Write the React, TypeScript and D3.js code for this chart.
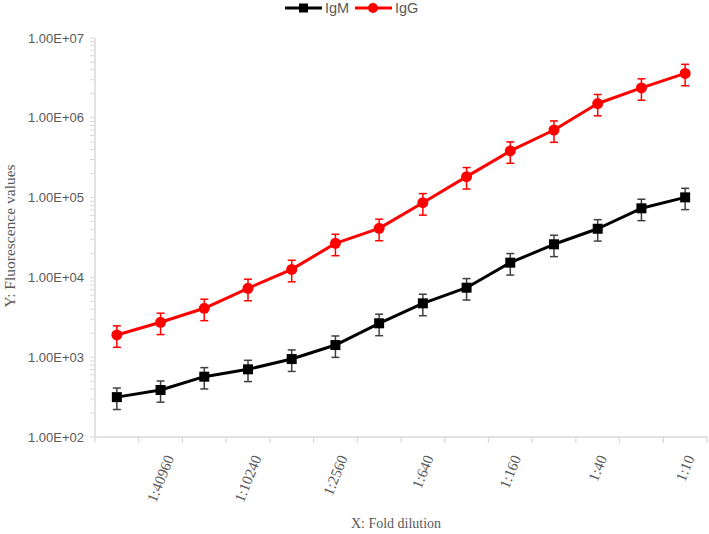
import React, { useEffect, useRef } from "react";
import * as d3 from "d3";

const categories = ["1:81920", "1:40960", "1:20480", "1:10240", "1:5120", "1:2560", "1:1280", "1:640", "1:320", "1:160", "1:80", "1:40", "1:20", "1:10"];
const xTickLabels = ["1:40960", "1:10240", "1:2560", "1:640", "1:160", "1:40", "1:10"];
const igmValues = [316, 388, 570, 705, 948, 1420, 2660, 4730, 7430, 15300, 26000, 40700, 73400, 100700];
const igmErrors = [95, 115, 170, 210, 285, 425, 800, 1420, 2230, 4600, 7800, 12200, 22000, 30000];
const iggValues = [1900, 2740, 4100, 7300, 12600, 26700, 41200, 86300, 183000, 384000, 703000, 1510000, 2370000, 3600000];
const iggErrors = [570, 820, 1230, 2200, 3800, 8000, 12400, 26000, 55000, 115000, 210000, 450000, 710000, 1080000];
const yTickValues = [1e2, 1e3, 1e4, 1e5, 1e6, 1e7];

const W = 709;
const H = 534;

function fmtExp(v: number): string {
  const [m, e] = v.toExponential(2).split("e");
  return `${m}E${e[0]}${e.slice(1).padStart(2, "0")}`;
}

export default function App() {
  const ref = useRef<SVGSVGElement>(null);

  useEffect(() => {
    const svg = d3.select(ref.current);
    svg.selectAll("*").remove();

    const left = 95, right = 707, top = 38, bottom = 437;
    const x = d3.scaleBand<string>().domain(categories).range([left, right]).paddingInner(0).paddingOuter(0);
    const xc = (c: string) => (x(c) as number) + x.bandwidth() / 2;
    const y = d3.scaleLog().domain([1e2, 1e7]).range([bottom, top]);
    const axisColor = "#d9d9d9";
    const textColor = "#595959";
    const sans = "'Liberation Sans', Arial, sans-serif";
    const serif = "'Liberation Serif', 'Times New Roman', serif";

    // Y axis
    svg.append("line").attr("x1", left).attr("x2", left).attr("y1", top).attr("y2", bottom)
      .attr("stroke", axisColor).attr("stroke-width", 1.5);
    const minorTicks: number[] = [];
    for (let k = 2; k < 7; k++) for (let m = 1; m < 10; m++) minorTicks.push(m * Math.pow(10, k));
    minorTicks.push(1e7);
    svg.append("g").selectAll("line").data(minorTicks).join("line")
      .attr("x1", left - 5).attr("x2", left).attr("y1", d => y(d)).attr("y2", d => y(d))
      .attr("stroke", axisColor).attr("stroke-width", 1);
    svg.append("g").selectAll("text").data(yTickValues).join("text")
      .attr("x", 84).attr("y", d => y(d)).attr("dy", "0.36em")
      .attr("text-anchor", "end").attr("font-family", sans).attr("font-size", 13)
      .attr("fill", textColor).text(d => fmtExp(d));

    // X axis
    svg.append("line").attr("x1", left).attr("x2", right).attr("y1", bottom).attr("y2", bottom)
      .attr("stroke", axisColor).attr("stroke-width", 1.5);
    const bounds = d3.range(categories.length + 1).map(i => left + i * x.bandwidth());
    svg.append("g").selectAll("line").data(bounds).join("line")
      .attr("x1", d => d).attr("x2", d => d).attr("y1", bottom).attr("y2", bottom + 6)
      .attr("stroke", axisColor).attr("stroke-width", 1.2);

    const ang = 68 * Math.PI / 180;
    const fs = 15;
    const labelTop = 454;
    const lg = svg.append("g");
    xTickLabels.forEach(lbl => {
      const t = lg.append("text").attr("font-family", serif).attr("font-size", fs)
        .attr("fill", textColor).attr("text-anchor", "middle").attr("dy", "0.33em").text(lbl);
      const L = (t.node() as SVGTextElement).getComputedTextLength();
      const hh = fs * 0.68;
      const bh = L * Math.sin(ang) + hh * Math.cos(ang);
      t.attr("transform", `translate(${xc(lbl)},${labelTop + bh / 2}) rotate(-68)`);
    });

    // Axis titles
    svg.append("text").attr("x", 396).attr("y", 528).attr("text-anchor", "middle")
      .attr("font-family", serif).attr("font-size", 14).attr("fill", textColor).text("X: Fold dilution");
    svg.append("text").attr("transform", `translate(15,236) rotate(-90)`).attr("text-anchor", "middle")
      .attr("font-family", serif).attr("font-size", 15.5).attr("fill", textColor).text("Y: Fluorescence values");

    const series = [
      { name: "IgM", values: igmValues, errors: igmErrors, color: "#000000", errColor: "#404040", marker: "square" },
      { name: "IgG", values: iggValues, errors: iggErrors, color: "#ff0000", errColor: "#ff0000", marker: "circle" },
    ];

    const line = d3.line<number>().x((_, i) => xc(categories[i])).y(d => y(d));

    series.forEach(s => {
      const g = svg.append("g");
      g.append("path").attr("d", line(s.values) as string).attr("fill", "none")
        .attr("stroke", s.color).attr("stroke-width", 3).attr("stroke-linejoin", "round");
      const eg = g.append("g").attr("stroke", s.errColor).attr("stroke-width", 1.5);
      s.values.forEach((v, i) => {
        const cx = xc(categories[i]);
        const y1 = y(v + s.errors[i]);
        const y2 = y(v - s.errors[i]);
        eg.append("line").attr("x1", cx).attr("x2", cx).attr("y1", y1).attr("y2", y2);
        eg.append("line").attr("x1", cx - 4).attr("x2", cx + 4).attr("y1", y1).attr("y2", y1);
        eg.append("line").attr("x1", cx - 4).attr("x2", cx + 4).attr("y1", y2).attr("y2", y2);
      });
      s.values.forEach((v, i) => {
        const cx = xc(categories[i]);
        if (s.marker === "square") {
          g.append("rect").attr("x", cx - 5).attr("y", y(v) - 5).attr("width", 10).attr("height", 10).attr("fill", s.color);
        } else {
          g.append("circle").attr("cx", cx).attr("cy", y(v)).attr("r", 5.5).attr("fill", s.color);
        }
      });
    });

    // Legend
    const leg = svg.append("g");
    const ly = 8;
    leg.append("line").attr("x1", 285).attr("x2", 322).attr("y1", ly).attr("y2", ly).attr("stroke", "#000").attr("stroke-width", 3);
    leg.append("rect").attr("x", 299).attr("y", ly - 4.5).attr("width", 9).attr("height", 9).attr("fill", "#000");
    leg.append("text").attr("x", 325).attr("y", ly).attr("dy", "0.36em").attr("font-family", sans).attr("font-size", 14.5)
      .attr("fill", textColor).text("IgM");
    leg.append("line").attr("x1", 355).attr("x2", 392).attr("y1", ly).attr("y2", ly).attr("stroke", "#ff0000").attr("stroke-width", 3);
    leg.append("circle").attr("cx", 373).attr("cy", ly).attr("r", 5).attr("fill", "#ff0000");
    leg.append("text").attr("x", 395).attr("y", ly).attr("dy", "0.36em").attr("font-family", sans).attr("font-size", 14.5)
      .attr("fill", textColor).text("IgG");
  }, []);

  return (
    <svg ref={ref} width={W} height={H} style={{ position: "absolute", left: 0, top: 0, background: "#fff" }} />
  );
}
